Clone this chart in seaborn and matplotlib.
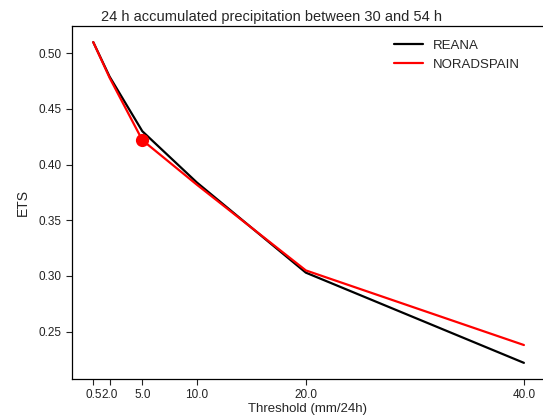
import matplotlib
matplotlib.use("Agg")
import matplotlib.pyplot as plt
import seaborn as sns
import pandas as pd

thresholds = [0.5, 2.0, 5.0, 10.0, 20.0, 40.0]
tick_labels = ["0.5", "2.0", "5.0", "10.0", "20.0", "40.0"]
reana = [0.510, 0.479, 0.430, 0.384, 0.303, 0.222]
noradspain = [0.510, 0.478, 0.422, 0.382, 0.305, 0.238]
highlight_x = [5.0]
highlight_y = [0.422]


def main():
    sns.set_style("ticks")
    plt.rcParams["font.family"] = ["Liberation Sans", "DejaVu Sans"]

    df = pd.DataFrame({
        "threshold": thresholds * 2,
        "ets": reana + noradspain,
        "model": ["REANA"] * len(thresholds) + ["NORADSPAIN"] * len(thresholds),
    })

    fig = plt.figure(figsize=(5.43, 4.18), dpi=100)
    ax = fig.add_axes([72 / 543, 1 - 379 / 418, (543 - 72) / 543, (379 - 26) / 418])

    sns.lineplot(data=df, x="threshold", y="ets", hue="model",
                 palette={"REANA": "black", "NORADSPAIN": "red"},
                 linewidth=1.6, ax=ax)
    sns.scatterplot(x=highlight_x, y=highlight_y, color="red", s=90,
                    edgecolor="red", linewidth=0, ax=ax, legend=False, zorder=5)

    ax.set_xlim(-1.45, 41.75)
    ax.set_ylim(0.2075, 0.5245)
    ax.set_xticks(thresholds)
    ax.set_xticklabels(tick_labels)
    ax.set_yticks([0.25, 0.30, 0.35, 0.40, 0.45, 0.50])
    ax.set_yticklabels(["0.25", "0.30", "0.35", "0.40", "0.45", "0.50"])
    ax.tick_params(labelsize=8.5, length=4, width=0.8, colors="#222222")
    ax.spines["right"].set_visible(False)
    for s in ["top", "left", "bottom"]:
        ax.spines[s].set_linewidth(0.9)
        ax.spines[s].set_color("black")

    ax.set_xlabel("Threshold (mm/24h)", fontsize=9.5, labelpad=1)
    ax.set_ylabel("ETS", fontsize=10, labelpad=6)

    leg = ax.legend(frameon=False, fontsize=9.5, loc="upper right",
                    bbox_to_anchor=(0.977, 0.995), handlelength=2.2,
                    labelspacing=0.5)
    for line in leg.get_lines():
        line.set_linewidth(1.6)

    fig.text(0.5, 1 - 17 / 418, "24 h accumulated precipitation between 30 and 54 h",
             ha="center", va="center", fontsize=10.5)

    fig.savefig("out.png", dpi=100)


if __name__ == "__main__":
    main()
